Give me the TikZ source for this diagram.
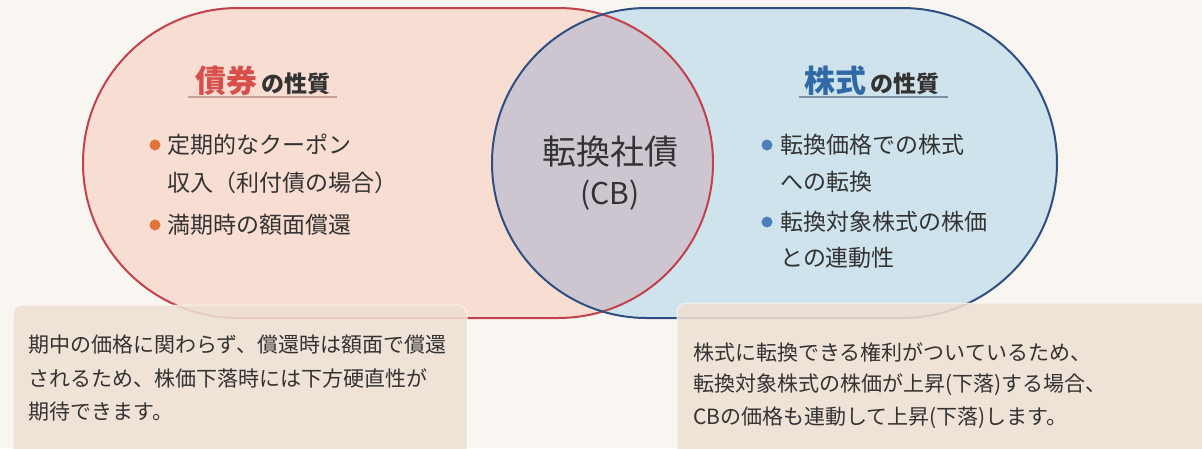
\documentclass[tikz,border=0pt]{standalone}
\usepackage{fontspec}
\setmainfont{Noto Sans CJK JP}
\definecolor{bg}{HTML}{F9F6F1}
\definecolor{leftfill}{HTML}{F8DDD3}
\definecolor{leftline}{HTML}{C2414B}
\definecolor{rightfill}{HTML}{CFE3EC}
\definecolor{rightline}{HTML}{2E4F80}
\definecolor{lensfill}{HTML}{CDC6D1}
\definecolor{boxfill}{HTML}{EEE0D3}
\definecolor{txt}{HTML}{333333}
\definecolor{titlered}{HTML}{D84E4A}
\definecolor{titleblue}{HTML}{2F6AA6}
\definecolor{bulor}{HTML}{E0733A}
\definecolor{bulbl}{HTML}{4F7FB8}
\definecolor{ulred}{HTML}{C4A195}
\definecolor{ulblue}{HTML}{7D8FA3}
\tikzset{
  tx/.style={inner sep=0pt, anchor=west, text=txt, font=\fontsize{23}{23}\selectfont},
  note/.style={inner sep=0pt, anchor=west, text=txt, font=\fontsize{21}{21}\selectfont},
  notebox/.style={fill=boxfill, fill opacity=0.88, draw=white, draw opacity=0.6, line width=1pt, rounded corners=9pt},
  stad/.style={rounded corners=155pt},
}
\begin{document}
\begin{tikzpicture}[x=1pt,y=-1pt]
\useasboundingbox (0,0) rectangle (1202,448);
\fill[bg] (0,0) rectangle (1202,448);
% stadium fills
\fill[leftfill, stad] (83,8) rectangle (713,318);
\fill[rightfill, stad] (492,8) rectangle (1057,318);
\begin{scope}
  \clip[stad] (83,8) rectangle (713,318);
  \fill[lensfill, stad] (492,8) rectangle (1057,318);
\end{scope}
\draw[leftline, line width=2pt, stad] (83,8) rectangle (713,318);
\draw[rightline, line width=2pt, stad] (492,8) rectangle (1057,318);
% titles
\node[inner sep=0pt, text=txt] (tL) at (263,81) {{\fontsize{31}{31}\selectfont\bfseries\color{titlered}債券}{\fontsize{23}{23}\selectfont\bfseries\,の性質}};
\draw[ulred, line width=1.2pt] (188,97) -- (337,97);
\node[inner sep=0pt, text=txt] (tR) at (872,81) {{\fontsize{31}{31}\selectfont\bfseries\color{titleblue}株式}{\fontsize{23}{23}\selectfont\bfseries\,の性質}};
\draw[ulblue, line width=1.2pt] (799,97) -- (948,97);
% left bullets
\fill[bulor] (155,145) circle (5.5pt);
\fill[bulor] (155,225) circle (5.5pt);
\node[tx] (l1) at (167,145) {定期的なクーポン};
\node[tx] (l2) at (167,183) {収入（利付債の場合）};
\node[tx] (l3) at (167,225) {満期時の額面償還};
% right bullets
\fill[bulbl] (767,145) circle (5.5pt);
\fill[bulbl] (767,222) circle (5.5pt);
\node[tx] (r1) at (780,145) {転換価格での株式};
\node[tx] (r2) at (780,182) {への転換};
\node[tx] (r3) at (780,222) {転換対象株式の株価};
\node[tx] (r4) at (780,258) {との連動性};
% center
\node[inner sep=0pt, text=txt, font=\fontsize{34}{34}\selectfont] (cb1) at (610,152) {転換社債};
\node[inner sep=0pt, text=txt, font=\fontsize{30}{30}\selectfont] (cb2) at (610,195) {(CB)};
% bottom boxes
\path[notebox] (13,305) rectangle (467,460);
\path[notebox] (677,303) rectangle (1215,460);
\node[note] (b1) at (28,345) {期中の価格に関わらず、償還時は額面で償還};
\node[note] (b2) at (28,378) {されるため、株価下落時には下方硬直性が};
\node[note] (b3) at (28,412) {期待できます。};
\node[note] (c1) at (693,352) {株式に転換できる権利がついているため、};
\node[note] (c2) at (693,385) {転換対象株式の株価が上昇(下落)する場合、};
\node[note] (c3) at (693,418) {CBの価格も連動して上昇(下落)します。};
\end{tikzpicture}
\end{document}
